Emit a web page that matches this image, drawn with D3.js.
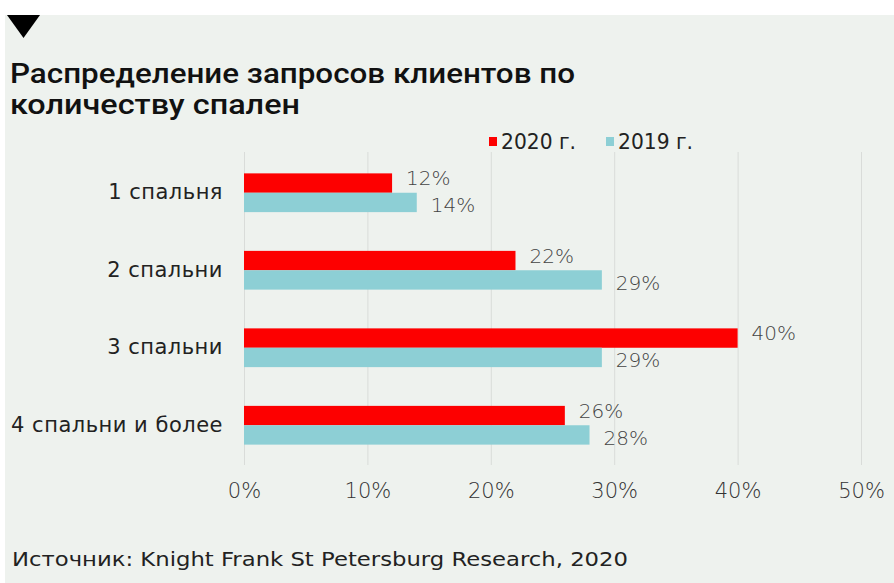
<!DOCTYPE html>
<html>
<head>
<meta charset="utf-8">
<script src="https://cdn.jsdelivr.net/npm/d3@7"></script>
<style>
  body{margin:0;background:#fff;}
  svg{display:block;}
</style>
</head>
<body>
<svg id="chart"></svg>
<script>
// data
var categories = ["1 спальня","2 спальни","3 спальни","4 спальни и более"];
var values2020 = [12,22,40,26];
var values2019 = [14,29,29,28];
var seriesNames = ["2020 г.","2019 г."];
var xTicks = [0,10,20,30,40,50];

var width = 894;
var height = 583;
var margins = {left:244,right:33,top:152,bot:118};
var colors = {"2020 г.":"#fd0000","2019 г.":"#8dcfd5"};
var font = "DejaVu Sans";

var svg = d3.select("#chart")
            .attr("width",width)
            .attr("height",height);

// panel
svg.append("rect")
   .attr("x",5).attr("y",15)
   .attr("width",width-5).attr("height",height-15)
   .attr("fill","#eef2ee");

// black triangle marker
svg.append("path")
   .attr("d","M7,15 L40,15 L23.5,38 Z")
   .attr("fill","#000");

// title
var title = svg.append("text")
   .attr("font-family","Roboto")
   .attr("font-weight",500)
   .attr("font-size",27)
   .attr("fill","#111");
title.append("tspan").attr("x",10).attr("y",83)
     .attr("textLength",565).attr("lengthAdjust","spacingAndGlyphs")
     .text("Распределение запросов клиентов по");
title.append("tspan").attr("x",10).attr("y",114)
     .attr("textLength",290).attr("lengthAdjust","spacingAndGlyphs")
     .text("количеству спален");

var xScale = d3.scaleLinear()
               .domain([0,50])
               .range([margins.left,width-margins.right]);

var yScale = d3.scaleBand()
               .domain(categories)
               .range([154,464])
               .paddingInner(0.5)
               .paddingOuter(0.25);

// gridlines
var grid = d3.axisBottom(xScale)
             .tickValues(xTicks)
             .tickSize(-(465-margins.top))
             .tickFormat("");
svg.append("g")
   .classed("grid",true)
   .attr("transform","translate(0,465)")
   .call(grid)
   .call(function(g){
     g.select(".domain").remove();
     g.selectAll("line").attr("stroke","#d9dcd9").attr("stroke-width",1);
   });

// x axis labels
var xAxis = d3.axisBottom(xScale)
              .tickValues(xTicks)
              .tickSize(0)
              .tickPadding(0)
              .tickFormat(function(d){return d+"%";});
svg.append("g")
   .classed("xAxis",true)
   .attr("transform","translate(0,483)")
   .call(xAxis)
   .call(function(g){
     g.select(".domain").remove();
     g.selectAll("text")
      .attr("font-family",font)
      .attr("font-weight",200)
      .attr("font-size",21)
      .attr("fill","#333");
   });

// y axis labels
var yAxis = d3.axisLeft(yScale).tickSize(0).tickPadding(21);
svg.append("g")
   .classed("yAxis",true)
   .attr("transform","translate("+margins.left+",0)")
   .call(yAxis)
   .call(function(g){
     g.select(".domain").remove();
     g.selectAll("text")
      .attr("font-family",font)
      .attr("font-size",21)
      .attr("letter-spacing",0.5)
      .attr("fill","#222");
   });

// bars
var rows = categories.map(function(c,i){
  return [{cat:c,series:seriesNames[0],v:values2020[i],k:0},
          {cat:c,series:seriesNames[1],v:values2019[i],k:1}];
});
var flat = [].concat.apply([],rows);
var bh = yScale.bandwidth()/2;

svg.append("g").selectAll("rect")
   .data(flat)
   .enter()
   .append("rect")
   .attr("x",xScale(0))
   .attr("y",function(d){return yScale(d.cat)+d.k*bh;})
   .attr("width",function(d){return xScale(d.v)-xScale(0);})
   .attr("height",bh)
   .attr("fill",function(d){return colors[d.series];});

// value labels
svg.append("g").selectAll("text")
   .data(flat)
   .enter()
   .append("text")
   .attr("x",function(d){return xScale(d.v)+14;})
   .attr("y",function(d){return yScale(d.cat)+d.k*bh+bh/2+(d.k==0?-5:3);})
   .attr("dy","0.35em")
   .attr("font-family",font)
   .attr("font-weight",200)
   .attr("font-size",20)
   .attr("fill","#444")
   .text(function(d){return d.v+"%";});

// legend
var legend = svg.append("g").attr("transform","translate(489,0)");
var lx = 0;
seriesNames.forEach(function(s){
  legend.append("rect")
        .attr("x",lx).attr("y",137)
        .attr("width",8).attr("height",9)
        .attr("fill",colors[s]);
  legend.append("text")
        .attr("x",lx+12).attr("y",149)
        .attr("font-family",font)
        .attr("font-size",21)
        .attr("fill","#222")
        .attr("textLength",75).attr("lengthAdjust","spacingAndGlyphs")
        .text(s);
  lx += 117;
});

// source
svg.append("text")
   .attr("x",12).attr("y",566)
   .attr("font-family",font)
   .attr("font-size",20)
   .attr("fill","#222")
   .attr("textLength",616).attr("lengthAdjust","spacingAndGlyphs")
   .text("Источник: Knight Frank St Petersburg Research, 2020");
</script>
</body>
</html>
